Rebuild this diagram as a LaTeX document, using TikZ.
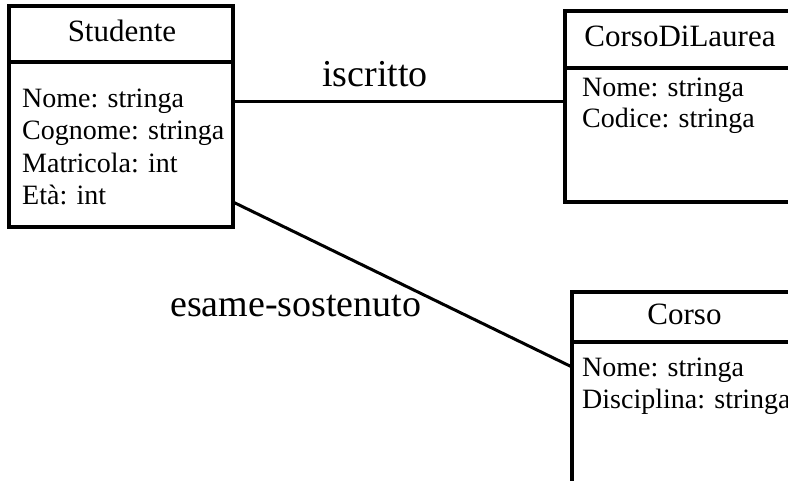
\documentclass[tikz,border=0pt]{standalone}
\usepackage{fontspec}
\setmainfont{Liberation Serif}
\begin{document}
\begin{tikzpicture}[x=1pt,y=-1pt,
 box/.style={draw,line width=3.1pt,rectangle,inner sep=0pt,outer sep=0pt,anchor=north west},
 divider/.style={line width=3.1pt},
 link/.style={line width=3pt},
 head/.style={font=\fontsize{31}{31}\selectfont,inner sep=0pt,anchor=base},
 attr/.style={font=\fontsize{28}{28}\selectfont,inner sep=0pt,anchor=base west},
 lbl/.style={font=\fontsize{38}{38}\selectfont,inner sep=0pt,anchor=base west}]
\useasboundingbox (0,0) rectangle (788,481);
\clip (0,0) rectangle (788,481);
% boxes
\node[box,minimum width=224pt,minimum height=221pt] (stud) at (9,6) {};
\node[box,minimum width=300pt,minimum height=191pt] (cdl) at (565,11) {};
\node[box,minimum width=300pt,minimum height=250pt] (corso) at (572,292) {};
% dividers
\draw[divider] (9,62) -- (233,62);
\draw[divider] (565,68) -- (800,68);
\draw[divider] (572,342) -- (800,342);
% texts
\node[head] (studh) at (122,42) {Studente};
\node[attr] (s1) at (22,108) {Nome: stringa};
\node[attr] (s2) at (22,140) {Cognome: stringa};
\node[attr] (s3) at (22,173) {Matricola: int};
\node[attr] (s4) at (22,205) {Età: int};
\node[head] (cdlh) at (680,47) {CorsoDiLaurea};
\node[attr] (c1) at (582,97) {Nome: stringa};
\node[attr] (c2) at (582,128) {Codice: stringa};
\node[head] (corsoh) at (684.5,325) {Corso};
\node[attr] (k1) at (582,377) {Nome: stringa};
\node[attr] (k2) at (582,408) {Disciplina: stringa};
% connectors
\coordinate (iy) at (400,102);
\coordinate (ea) at (0,202);
\coordinate (eb) at (0,367);
\draw[link] (stud.east |- iy) -- (cdl.west |- iy);
\draw[link] (stud.east |- ea) -- (corso.west |- eb);
\node[lbl] (liscr) at (322,87) {iscritto};
\node[lbl] (lesame) at (170,317) {esame-sostenuto};
\end{tikzpicture}
\end{document}
